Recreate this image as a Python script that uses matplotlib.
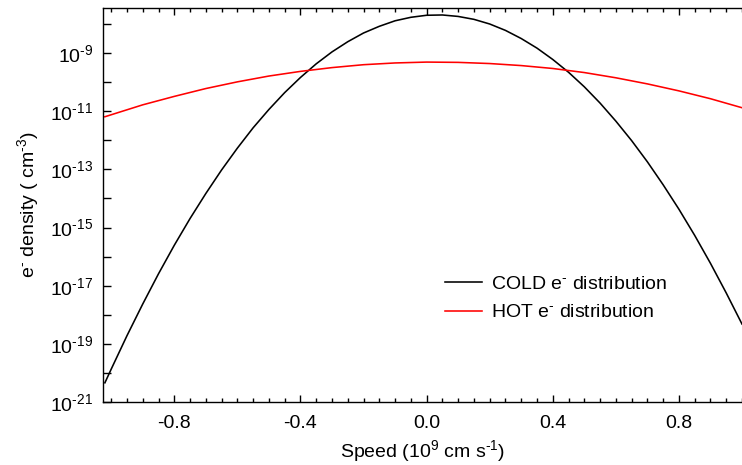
import matplotlib
matplotlib.use("Agg")
import matplotlib.pyplot as plt
import numpy as np

plt.rcParams['font.family'] = ['Liberation Sans', 'DejaVu Sans']
plt.rcParams['mathtext.fontset'] = 'custom'
plt.rcParams['mathtext.rm'] = 'Liberation Sans'
plt.rcParams['mathtext.it'] = 'Liberation Sans:italic'
plt.rcParams['mathtext.bf'] = 'Liberation Sans:bold'
plt.rcParams['axes.unicode_minus'] = False

# Cold distribution: speed (1e9 cm/s) and log10 density (cm^-3)
cold_speed = [-1.02, -1.00, -0.95, -0.90, -0.85, -0.80, -0.75, -0.70, -0.65, -0.60,
              -0.55, -0.50, -0.45, -0.40, -0.35, -0.30, -0.25, -0.20, -0.15, -0.10,
              -0.05, 0.00, 0.05, 0.10, 0.15, 0.20, 0.25, 0.30, 0.35, 0.40,
              0.45, 0.50, 0.55, 0.60, 0.65, 0.70, 0.75, 0.80, 0.85, 0.90,
              0.95, 1.00]
cold_log = [-20.34, -19.87, -18.72, -17.63, -16.59, -15.61, -14.69, -13.83, -13.02, -12.27,
            -11.57, -10.94, -10.36, -9.84, -9.37, -8.96, -8.61, -8.31, -8.08, -7.89,
            -7.77, -7.70, -7.69, -7.74, -7.84, -8.00, -8.22, -8.50, -8.83, -9.22,
            -9.66, -10.16, -10.72, -11.34, -12.01, -12.74, -13.53, -14.37, -15.27, -16.23,
            -17.25, -18.32]

# Hot distribution
hot_speed = [-1.02, -0.90, -0.80, -0.70, -0.60, -0.50, -0.40, -0.30, -0.20, -0.10,
             0.00, 0.10, 0.20, 0.30, 0.40, 0.50, 0.60, 0.70, 0.80, 0.90, 1.00]
hot_log = [-11.19, -10.78, -10.49, -10.22, -9.99, -9.79, -9.63, -9.50, -9.40, -9.34,
           -9.31, -9.32, -9.36, -9.43, -9.53, -9.67, -9.85, -10.06, -10.30, -10.57, -10.88]

x_ticks = [-0.8, -0.4, 0.0, 0.4, 0.8]
x_ticklabels = ["-0.8", "-0.4", "0.0", "0.4", "0.8"]
y_major_exp = [-21, -19, -17, -15, -13, -11, -9]
y_minor_exp = [-20, -18, -16, -14, -12, -10, -8]

FS = 14

fig = plt.figure(figsize=(7.42, 4.65), dpi=100)
ax = fig.add_axes([103/742, 1-402/465, 1-103/742, (402-8)/465])

ax.plot(cold_speed, 10.0**np.array(cold_log), color='black', lw=1.15,
        label=r"COLD e$^{\text{-}}$ distribution")
ax.plot(hot_speed, 10.0**np.array(hot_log), color='#ff0000', lw=1.15,
        label=r"HOT e$^{\text{-}}$ distribution")

ax.set_yscale('log')
ax.set_xlim(-1.026, 0.997)
ax.set_ylim(1e-21, 10**-7.45)

ax.set_xticks(x_ticks)
ax.set_xticklabels(x_ticklabels)
ax.set_xticks(np.arange(-1.0, 1.0001, 0.05), minor=True)
ax.set_yticks([10.0**e for e in y_major_exp])
ax.set_yticklabels([r"$10^{\text{%d}}$" % e for e in y_major_exp])
ax.set_yticks([10.0**e for e in y_minor_exp], minor=True)
ax.yaxis.set_minor_formatter(matplotlib.ticker.NullFormatter())

ax.tick_params(axis='both', which='both', direction='in', top=True, right=False,
               labelsize=FS, width=1.0)
ax.tick_params(axis='x', which='major', length=5, pad=9)
ax.tick_params(axis='x', which='minor', length=3)
ax.tick_params(axis='y', which='both', length=6)
ax.tick_params(axis='y', which='major', pad=7)
ax.spines['right'].set_visible(False)
for s in ['left', 'top', 'bottom']:
    ax.spines[s].set_linewidth(1.0)

ax.set_xlabel(r"Speed (10$^{9}$ cm s$^{\text{-1}}$)", fontsize=FS, labelpad=5)
ax.set_ylabel(r"e$^{\text{-}}$ density ( cm$^{\text{-3}}$)", fontsize=FS, labelpad=7)

leg = ax.legend(loc='upper left', bbox_to_anchor=(0.535, 0.322), frameon=False,
                fontsize=FS, handlelength=1.9, handletextpad=0.45, labelspacing=0.57,
                borderaxespad=0, borderpad=0)

fig.savefig("out.png", dpi=100)
